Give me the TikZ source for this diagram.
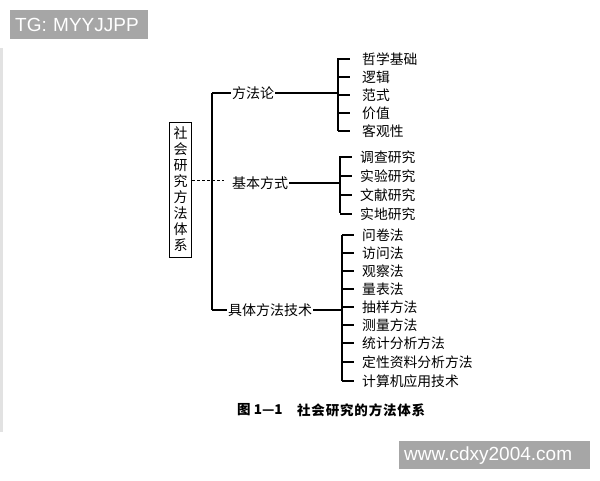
\documentclass[tikz,border=0pt]{standalone}
\usepackage{fontspec}
\setmainfont{Liberation Sans}
\newfontfamily\cjk{Noto Sans CJK SC}
\definecolor{markgray}{HTML}{A6A6A6}
\definecolor{edgegray}{HTML}{E2E2E2}
\tikzset{
	ast/.style={line width=1.1pt, black},
	zweig/.style={font=\cjk\fontsize{14}{14}\selectfont, inner sep=1pt, anchor=west},
	punkt/.style={font=\cjk\fontsize{13.8}{13.8}\selectfont, inner sep=0pt, anchor=west},
	unter/.style={font=\cjk\bfseries\fontsize{13.5}{13.5}\selectfont, inner sep=0pt, anchor=west},
	marke/.style={fill=markgray, text=white, font=\fontsize{19}{19}\selectfont, inner xsep=5pt,
		inner ysep=0pt, minimum height=29pt, align=left, anchor=north west}
}
\begin{document}
\begin{tikzpicture}[x=1pt, y=-1pt]
	\useasboundingbox (0,0) rectangle (600,480);
	% Rand links
	\fill[edgegray] (0,48) rectangle (2.5,432);
	% Wurzel
	\node[draw, line width=1pt, inner sep=2pt, minimum width=22pt, minimum height=135pt,
		align=center, font=\cjk\fontsize{14}{16}\selectfont] (wurzel) at (180.5,189.5)
		{社\\会\\研\\究\\方\\法\\体\\系};
	% Stamm
	\coordinate (oben) at (212,93);
	\coordinate (unten) at (212,310);
	\coordinate (mitte) at (224,180);
	\draw[ast] (oben) -- (unten);
	\draw[line width=0.9pt, densely dashed] (wurzel.east |- mitte) -- (mitte);
	% Zweige
	\node[zweig] (methodik) at (231,93) {方法论};
	\node[zweig] (weise) at (231,183) {基本方式};
	\node[zweig] (technik) at (227,310) {具体方法技术};
	\draw[ast] (oben) -- (methodik.west);
	\draw[ast] (unten) -- (technik.west);
	% Klammer 1
	\coordinate (k1o) at (338,58);
	\coordinate (k1u) at (338,131);
	\draw[ast] (k1o) -- (k1u);
	\draw[ast] (methodik.east) -- (338,93);
	\foreach \t/\y [count=\i] in {哲学基础/59,逻辑/77,范式/95,价值/113,客观性/131} {
		\node[punkt] (a\i) at (362,\y) {\t};
		\draw[ast] (338,\y) -- (350,\y);
	}
	% Klammer 2
	\coordinate (k2o) at (340,156);
	\coordinate (k2u) at (340,213);
	\draw[ast] (k2o) -- (k2u);
	\draw[ast] (weise.east) -- (340,183);
	\foreach \t/\y [count=\i] in {调查研究/157,实验研究/176,文献研究/195,实地研究/214} {
		\node[punkt] (b\i) at (360,\y) {\t};
		\draw[ast] (340,\y) -- (352,\y);
	}
	% Klammer 3
	\coordinate (k3o) at (342,235);
	\coordinate (k3u) at (342,381);
	\draw[ast] (k3o) -- (k3u);
	\draw[ast] (technik.east) -- (342,310);
	\foreach \t/\y [count=\i] in {问卷法/235,访问法/253,观察法/271,量表法/289,抽样方法/307,
		测量方法/325,统计分析方法/343,定性资料分析方法/362,计算机应用技术/381} {
		\node[punkt] (c\i) at (362,\y) {\t};
		\draw[ast] (342,\y) -- (354,\y);
	}
	% Bildunterschrift
	\node[unter] (bildnr) at (237,410) {图 1—1};
	\node[unter] (titel) at (297,410) {{\addfontfeature{LetterSpace=6}社会研究的方法体系}};
	% Wasserzeichen
	\node[marke, text width=128pt] (tg) at (10,10) {TG: MYYJJPP};
	\node[marke, text width=181pt, minimum height=28pt] (web) at (399,441) {www.cdxy2004.com};
\end{tikzpicture}
\end{document}
